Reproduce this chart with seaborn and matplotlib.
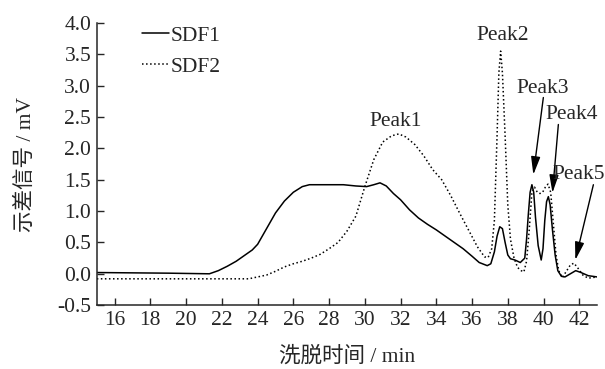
import matplotlib
matplotlib.use('Agg')
import matplotlib.pyplot as plt
import seaborn as sns

# SDF1 (solid) elution profile
sdf1_time = [15.0, 17.0, 19.0, 21.3, 21.8, 22.3, 22.8, 23.3, 23.7, 24.0, 24.5,
             25.0, 25.5, 26.0, 26.5, 26.9, 28.8, 29.5, 30.1, 30.5, 30.85, 31.2,
             31.6, 32.0, 32.5, 33.0, 33.5, 34.0, 34.5, 35.0, 35.5, 36.0, 36.4,
             36.85, 37.05, 37.25, 37.4, 37.55, 37.7, 37.85, 38.0, 38.15, 38.4,
             38.7, 38.95, 39.05, 39.15, 39.25, 39.35, 39.45, 39.55, 39.7, 39.87,
             39.97, 40.07, 40.17, 40.27, 40.37, 40.5, 40.65, 40.8, 41.0, 41.2,
             41.5, 41.8, 42.1, 42.5, 43.0]
sdf1_signal = [0.02, 0.015, 0.01, 0.0, 0.05, 0.12, 0.2, 0.3, 0.38, 0.47, 0.72,
               0.97, 1.16, 1.3, 1.39, 1.42, 1.42, 1.40, 1.39, 1.42, 1.45, 1.40,
               1.28, 1.18, 1.02, 0.89, 0.79, 0.70, 0.60, 0.50, 0.40, 0.28, 0.18,
               0.13, 0.16, 0.35, 0.6, 0.75, 0.72, 0.5, 0.3, 0.24, 0.22,
               0.18, 0.25, 0.55, 0.95, 1.3, 1.42, 1.3, 0.9, 0.45, 0.22,
               0.4, 0.85, 1.15, 1.23, 1.1, 0.7, 0.3, 0.05, -0.04, -0.05,
               0.0, 0.05, 0.02, -0.03, -0.05]

# SDF2 (dotted) elution profile
sdf2_time = [15.0, 18.0, 21.0, 23.5, 24.0, 24.5, 25.0, 25.5, 26.0, 26.5, 27.0,
             27.5, 28.0, 28.5, 29.0, 29.5, 30.0, 30.5, 31.0, 31.5, 31.9, 32.3,
             32.8, 33.3, 33.8, 34.3, 34.8, 35.3, 35.8, 36.3, 36.7, 36.9, 37.1,
             37.25, 37.4, 37.5, 37.6, 37.7, 37.85, 38.0, 38.15, 38.35, 38.55,
             38.75, 38.9, 39.05, 39.2, 39.35, 39.5, 39.65, 39.8, 39.95, 40.1,
             40.25, 40.4, 40.55, 40.7, 40.85, 41.05, 41.3, 41.5, 41.7, 41.9,
             42.2, 42.5, 43.0]
sdf2_signal = [-0.08, -0.08, -0.08, -0.08, -0.05, -0.02, 0.04, 0.11, 0.16, 0.2, 0.25,
               0.31, 0.40, 0.50, 0.68, 0.92, 1.39, 1.82, 2.1, 2.2, 2.23, 2.18,
               2.06, 1.88, 1.66, 1.5, 1.25, 0.97, 0.7, 0.43, 0.27, 0.26, 0.4,
               0.85, 2.2, 3.2, 3.55, 3.2, 2.2, 1.1, 0.55, 0.25, 0.1,
               0.05, 0.03, 0.2, 0.7, 1.3, 1.38, 1.3, 1.28, 1.3, 1.38,
               1.43, 1.3, 0.8, 0.3, 0.05, -0.06, 0.05, 0.14, 0.17, 0.1,
               -0.02, -0.07, -0.05]

x_ticks = [16, 18, 20, 22, 24, 26, 28, 30, 32, 34, 36, 38, 40, 42]
y_ticks = [-0.5, 0.0, 0.5, 1.0, 1.5, 2.0, 2.5, 3.0, 3.5, 4.0]

# peak labels: text, text position, arrow tip/tail (None = no arrow)
peak_names = ['Peak1', 'Peak2', 'Peak3', 'Peak4', 'Peak5']
peak_text_xy = [(31.75, 2.43), (37.7, 3.80), (39.93, 2.95), (41.6, 2.54), (43.45, 1.59)]
peak_text_ha = ['center', 'center', 'center', 'center', 'right']
peak_tip_xy = [None, None, (39.43, 1.58), (40.5, 1.29), (41.78, 0.22)]
peak_tail_xy = [None, None, (39.99, 2.81), (40.83, 2.38), (42.79, 1.42)]

FS = 15.5

sns.set_style('ticks')
plt.rcParams['font.family'] = ['Liberation Serif', 'Noto Sans CJK SC']
plt.rcParams['axes.unicode_minus'] = False
plt.rcParams['font.size'] = FS

fig = plt.figure(figsize=(6.05, 3.69), dpi=100)
ax = fig.add_axes([0.160, 0.173, 0.827, 0.765])

sns.lineplot(x=sdf1_time, y=sdf1_signal, ax=ax, color='black', lw=1.1,
             label='SDF1')
sns.lineplot(x=sdf2_time, y=sdf2_signal, ax=ax, color='black', lw=1.1,
             linestyle=':', label='SDF2')

ax.set_xlim(15, 43)
ax.set_ylim(-0.5, 4.0)
ax.set_xticks(x_ticks)
ax.set_yticks(y_ticks)
ax.set_yticklabels([f'{v:.1f}' for v in y_ticks])
ax.tick_params(direction='in', length=5, width=1, labelsize=FS, pad=4)
for side in ['top', 'right']:
    ax.spines[side].set_visible(False)
for side in ['left', 'bottom']:
    ax.spines[side].set_linewidth(1.1)

ax.set_xlabel('洗脱时间 / min', fontsize=FS, labelpad=12)
ax.set_ylabel('示差信号 / mV', fontsize=FS, labelpad=15)

ax.legend(loc='upper left', bbox_to_anchor=(0.09, 0.99), frameon=False,
          fontsize=FS, handlelength=1.25, handletextpad=0.1,
          labelspacing=0.5, borderaxespad=0, borderpad=0)

for name, txt, ha, tip, tail in zip(peak_names, peak_text_xy, peak_text_ha,
                                    peak_tip_xy, peak_tail_xy):
    ax.text(txt[0], txt[1], name, ha=ha, va='center', fontsize=FS,
            clip_on=False)
    if tip is not None:
        ax.annotate('', xy=tip, xytext=tail,
                    arrowprops=dict(arrowstyle='-|>,head_width=0.18,head_length=0.7',
                                    color='black', lw=1.0, shrinkA=0, shrinkB=0))

fig.savefig('out.png', dpi=100)
